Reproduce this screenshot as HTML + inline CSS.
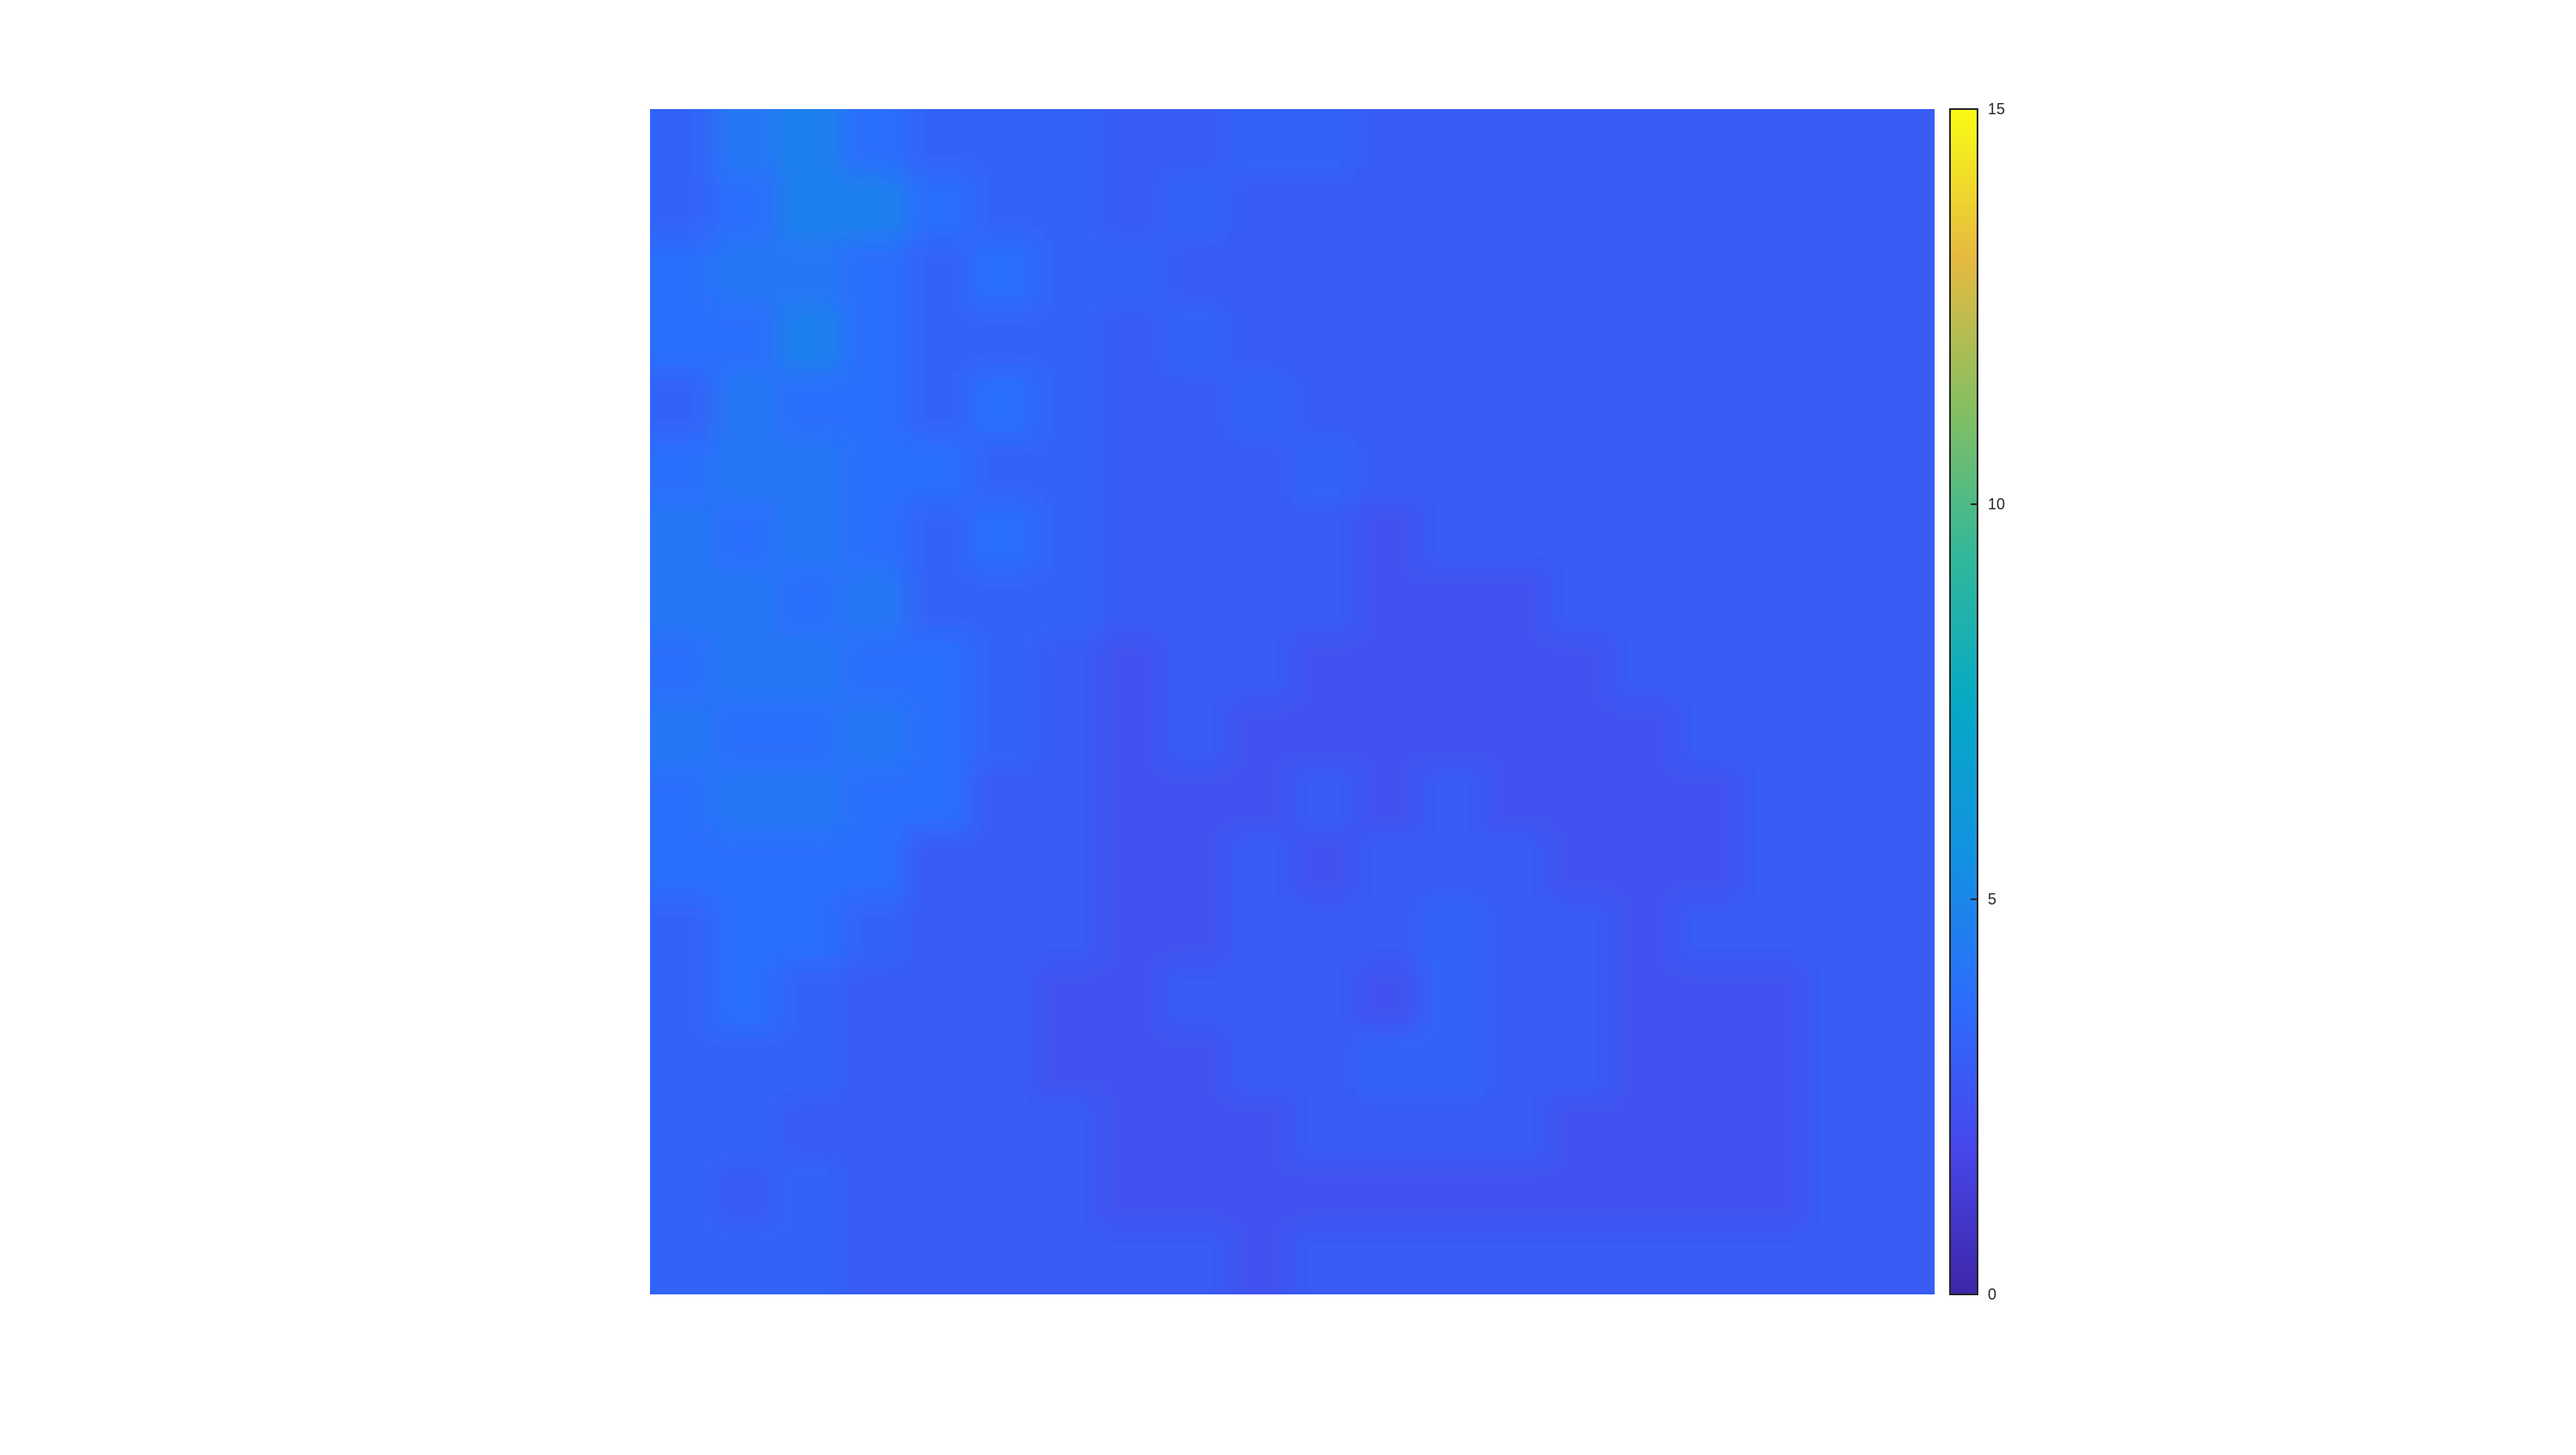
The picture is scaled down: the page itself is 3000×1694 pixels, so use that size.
<!DOCTYPE html>
<html><head><meta charset="utf-8"><style>
body{margin:0;background:#fff;width:3000px;height:1694px;overflow:hidden;font-family:"Liberation Sans",sans-serif}
svg{position:absolute;left:0;top:0}
</style></head><body>
<svg id="c" width="3000" height="1694">
<defs>
<filter id="bl" x="-0.1" y="-0.1" width="1.2" height="1.2"><feGaussianBlur stdDeviation="14"/></filter>
<clipPath id="cp"><rect x="757" y="127" width="1496" height="1380"/></clipPath>
<linearGradient id="pg" x1="0" y1="1" x2="0" y2="0"></linearGradient>
</defs>
<g id="hm" clip-path="url(#cp)"><g id="cells" filter="url(#bl)"></g></g>
<g id="cb"></g>
</svg>
<script>
const gridRows = [
"46754443344333333333",
"45775443433333333333",
"56654544333333333333",
"55754443433333333333",
"46554543343333333333",
"56655443334333333333",
"65654543333233333333",
"66564443333222333333",
"56655432332222233333",
"65565432322222223333",
"56655332223232222333",
"55553332232333222333",
"45543332233343323333",
"45433322333243322233",
"44433322233443322233",
"44333332223333222233",
"43433332222222222233",
"44433333323333333333"];
const cbTicks = [0,5,10,15];
const cbMin = 0, cbMax = 15;
const valueOffset = 1.5, valueStep = 0.45;
const P=[[0,.2422,.1504,.6603],[.125,.2803,.2782,.9221],[.25,.1707,.4302,.9868],[.375,.0689,.5769,.8784],[.5,.0265,.6637,.7735],[.625,.2,.72,.6],[.75,.53,.75,.38],[.875,.9,.73,.25],[1,.9769,.9839,.0805]];
function parula(t){t=Math.max(0,Math.min(1,t));for(let i=1;i<P.length;i++){if(t<=P[i][0]){const a=P[i-1],b=P[i],f=(t-a[0])/(b[0]-a[0]);return `rgb(${[1,2,3].map(k=>Math.round(255*(a[k]+f*(b[k]-a[k])))).join(',')})`;}}}
const NS='http://www.w3.org/2000/svg';
const X0=757,Y0=127,W=1496,H=1380,PAD=80;
const nr=gridRows.length,nc=gridRows[0].length;
const xS=c=>X0+c*W/nc, yS=r=>Y0+r*H/nr;
const cells=document.getElementById('cells');
gridRows.forEach((row,r)=>{[...row].forEach((ch,c)=>{
 let x=xS(c)-1,y=yS(r)-1,w=W/nc+2,h=H/nr+2;
 if(c===0){x-=PAD;w+=PAD;} if(c===nc-1){w+=PAD;}
 if(r===0){y-=PAD;h+=PAD;} if(r===nr-1){h+=PAD;}
 const e=document.createElementNS(NS,'rect');
 e.setAttribute('x',x);e.setAttribute('y',y);
 e.setAttribute('width',w);e.setAttribute('height',h);
 const v=valueOffset+(+ch)*valueStep;
 e.setAttribute('fill',parula((v-cbMin)/(cbMax-cbMin)));
 
 
 cells.appendChild(e);});});
const g=document.getElementById('pg');
P.forEach(p=>{const s=document.createElementNS(NS,'stop');s.setAttribute('offset',p[0]);s.setAttribute('stop-color',parula(p[0]));g.appendChild(s);});
const cb=document.getElementById('cb');
const CX=2271,CW=32;
const cyS=v=>Y0+H-(v-cbMin)/(cbMax-cbMin)*H;
const bar=document.createElementNS(NS,'rect');
bar.setAttribute('x',CX);bar.setAttribute('y',Y0);bar.setAttribute('width',CW);bar.setAttribute('height',H);
bar.setAttribute('fill','url(#pg)');bar.setAttribute('stroke','#262626');bar.setAttribute('stroke-width','2');


cb.appendChild(bar);
cbTicks.forEach(v=>{
 const y=cyS(v);
 const l=document.createElementNS(NS,'line');
 l.setAttribute('x1',CX+CW-8);l.setAttribute('x2',CX+CW);l.setAttribute('y1',y);l.setAttribute('y2',y);l.setAttribute('stroke','#262626');l.setAttribute('stroke-width','2');
 
 
 cb.appendChild(l);
 const t=document.createElementNS(NS,'text');
 t.setAttribute('x',CX+CW+12);t.setAttribute('y',y+6);t.setAttribute('font-size','18');t.setAttribute('fill','#262626');
 t.textContent=v;
 
 
 cb.appendChild(t);});
</script>
</body></html>
